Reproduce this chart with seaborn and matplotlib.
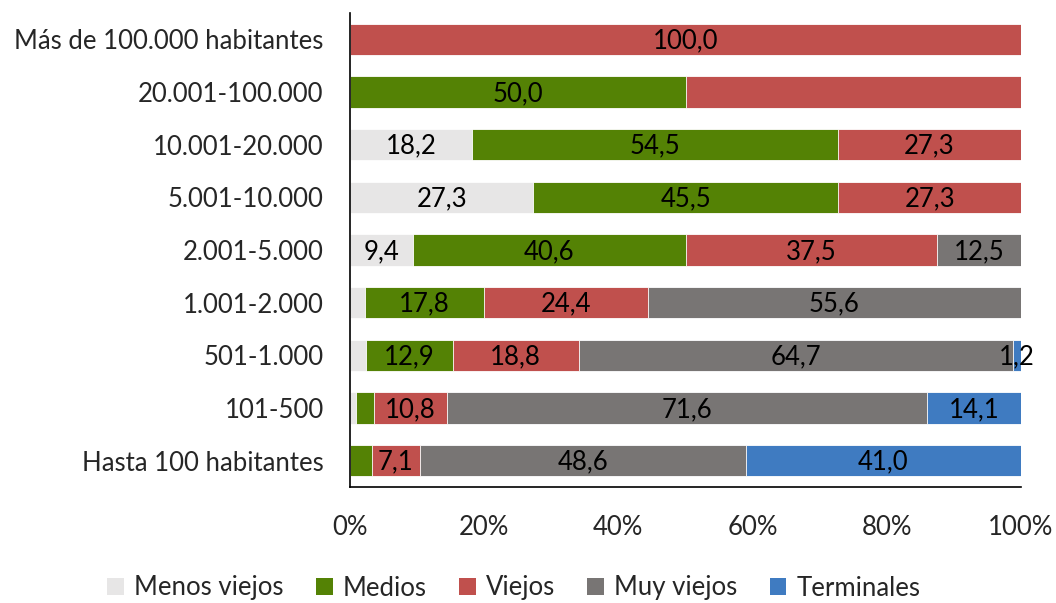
import numpy as np
import pandas as pd
import seaborn as sns
import matplotlib.pyplot as plt
from matplotlib.patches import Patch

# ---- datos (% por tamaño de municipio) ----
categorias = [
    'Más de 100.000 habitantes',
    '20.001-100.000',
    '10.001-20.000',
    '5.001-10.000',
    '2.001-5.000',
    '1.001-2.000',
    '501-1.000',
    '101-500',
    'Hasta 100 habitantes',
]
series = ['Menos viejos', 'Medios', 'Viejos', 'Muy viejos', 'Terminales']
menos_viejos = [0.0, 0.0, 18.2, 27.3, 9.4, 2.2, 2.4, 0.9, 0.0]
medios = [0.0, 50.0, 54.5, 45.5, 40.6, 17.8, 12.9, 2.7, 3.3]
viejos = [100.0, 50.0, 27.3, 27.3, 37.5, 24.4, 18.8, 10.8, 7.1]
muy_viejos = [0.0, 0.0, 0.0, 0.0, 12.5, 55.6, 64.7, 71.6, 48.6]
terminales = [0.0, 0.0, 0.0, 0.0, 0.0, 0.0, 1.2, 14.1, 41.0]
# etiquetas que no aparecen en el gráfico original
ocultas = {('20.001-100.000', 'Viejos')}
colores = ['#E7E6E6', '#548205', '#C0504D', '#787574', '#3F7BC1']

valores = [menos_viejos, medios, viejos, muy_viejos, terminales]
df = pd.DataFrame(dict(zip(series, valores)), index=categorias)
acum = df.cumsum(axis=1)

sns.set_theme(style='white')
plt.rcParams['font.family'] = ['Lato', 'DejaVu Sans']
fs = 18.5

fig = plt.figure(figsize=(10.56, 6.03), dpi=100)
ax = fig.add_axes([350 / 1056, 1 - 487 / 603, 671 / 1056, 474 / 603])

# barras apiladas: se dibuja primero el acumulado total y encima los parciales
for s, c in reversed(list(zip(series, colores))):
    d = pd.DataFrame({'cat': categorias, 'val': acum[s].values})
    sns.barplot(data=d, y='cat', x='val', order=categorias, color=c,
                width=0.6, edgecolor='white', linewidth=0.6,
                saturation=1, ax=ax)

# etiquetas de datos
for i, cat in enumerate(categorias):
    for s in series:
        v = df.loc[cat, s]
        if v <= 0 or (cat, s) in ocultas:
            continue
        if v < 5 and s != 'Terminales':
            continue
        x = acum.loc[cat, s] - v / 2
        ax.text(x, i + 0.03, f'{v:.1f}'.replace('.', ','), ha='center', va='center',
                fontsize=fs, color='black')

ax.set_xlim(0, 100)
ax.set_ylim(len(categorias) - 0.5, -0.5)
ax.set_xticks(np.arange(0, 101, 20))
ax.set_xticklabels([f'{t}%' for t in range(0, 101, 20)], fontsize=fs)
ax.set_yticks(range(len(categorias)))
ax.set_yticklabels(categorias, fontsize=fs)
ax.set_yticks(np.arange(-0.5, len(categorias)), minor=True)
ax.tick_params(axis='y', which='major', length=0, pad=19)
ax.tick_params(axis='y', which='minor', length=6, width=1.2, color='black', direction='out')
ax.tick_params(axis='x', length=6, width=1.2, color='black', direction='out', pad=14)
ax.set_xlabel('')
ax.set_ylabel('')

for side in ['top', 'right']:
    ax.spines[side].set_visible(False)
for side in ['left', 'bottom']:
    ax.spines[side].set_color('black')
    ax.spines[side].set_linewidth(1.2)

handles = [Patch(facecolor=c, edgecolor='none', label=s) for s, c in zip(series, colores)]
fig.legend(handles=handles, loc='center', bbox_to_anchor=(514 / 1056, 1 - 588 / 603),
           ncol=5, frameon=False, fontsize=fs, handlelength=0.65, handleheight=0.65,
           handletextpad=0.4, columnspacing=1.25)

fig.savefig('out.png', dpi=100)
